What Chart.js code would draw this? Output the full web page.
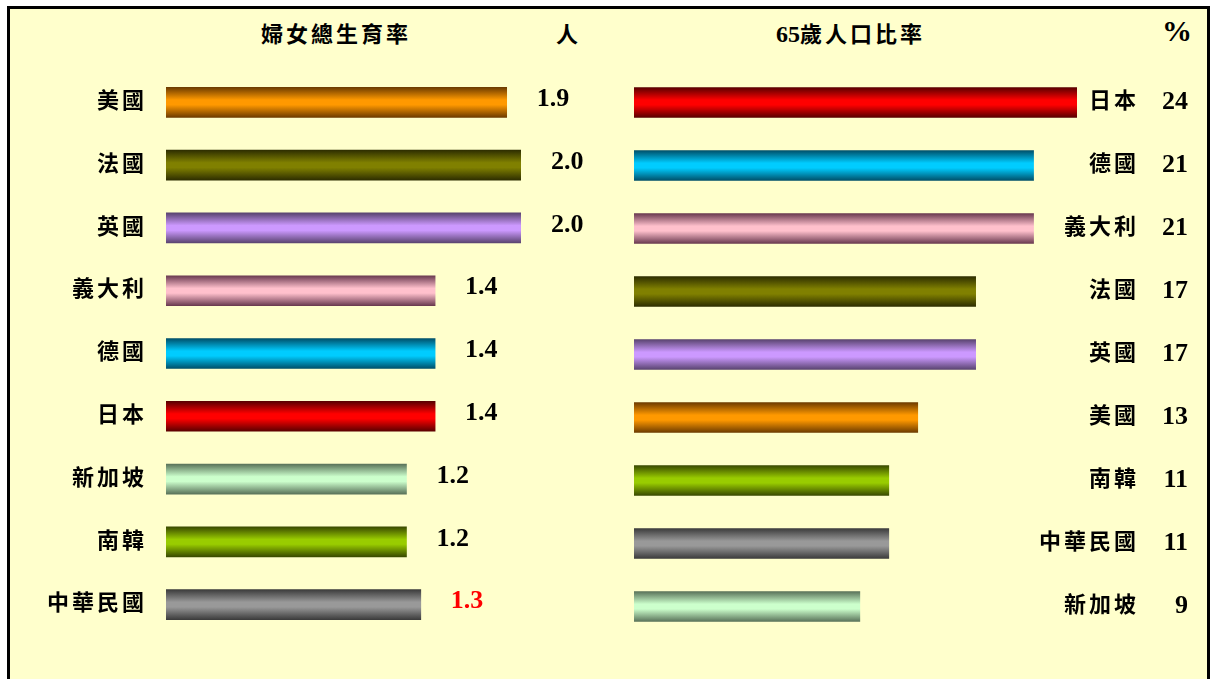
<!DOCTYPE html>
<html>
<head>
<meta charset="utf-8">
<script src="https://cdn.jsdelivr.net/npm/chart.js@4"></script>
<style>
  html, body { margin: 0; padding: 0; background: #fff; overflow: hidden; }
  #frame {
    position: absolute; left: 7px; top: 6px; width: 1197px; height: 700px;
    border: 3px solid #000; background: #FFFFCC;
  }
  .title {
    position: absolute; top: 16px; font: bold 22px "Liberation Serif", "Noto Sans CJK TC";
    letter-spacing: 3px; color: #000; white-space: nowrap;
  }
  canvas { position: absolute; top: 0; }
</style>
</head>
<body>
<div id="frame"></div>
<div class="title" style="left:261px">婦女總生育率</div>
<div class="title" style="left:556px">人</div>
<div class="title" style="left:776px"><span style="letter-spacing:0;font-size:24px">65</span>歲人口比率</div>
<div class="title" style="left:1162px;top:14px;font-size:30px;letter-spacing:0">%</div>

<div style="position:absolute;left:0;top:0;width:600px;height:679px">
  <canvas id="fertilityChart"></canvas>
</div>
<div style="position:absolute;left:600px;top:0;width:614px;height:679px">
  <canvas id="agedChart"></canvas>
</div>

<script>
/* ========================================
   DATA
======================================== */
const fertilityCountries = ["美國", "法國", "英國", "義大利", "德國", "日本", "新加坡", "南韓", "中華民國"];
const fertilityValues = [1.9, 2.0, 2.0, 1.4, 1.4, 1.4, 1.2, 1.2, 1.3];
const fertilityLabels = ["1.9", "2.0", "2.0", "1.4", "1.4", "1.4", "1.2", "1.2", "1.3"];

const agedCountries = ["日本", "德國", "義大利", "法國", "英國", "美國", "南韓", "中華民國", "新加坡"];
const agedValues = [24, 21, 21, 17, 17, 13, 11, 11, 9];
const agedLabels = ["24", "21", "21", "17", "17", "13", "11", "11", "9"];

/* bar colours per country: [edge, centre] */
const countryColors = {
  "美國": ["#6e3c00", "#ff9900"],
  "法國": ["#2e2e00", "#808000"],
  "英國": ["#5a4470", "#cc99ff"],
  "義大利": ["#6a3a50", "#ffc0cc"],
  "德國": ["#00506a", "#00ccff"],
  "日本": ["#5a0000", "#ff0000"],
  "新加坡": ["#5a735a", "#ccffcc"],
  "南韓": ["#3a4a00", "#99cc00"],
  "中華民國": ["#3c3c3c", "#999999"]
};

const LABEL_FONT = 'bold 22px "Liberation Serif", "Noto Sans CJK TC"';
const VALUE_FONT = 'bold 26px "Liberation Serif", "Noto Sans CJK TC"';

/* ========================================
   CYLINDER GRADIENT
======================================== */
function barGradient(countries) {
  return context => {
    const chart = context.chart;
    const pair = countryColors[countries[context.dataIndex]] || ["#444", "#999"];
    if (!chart.chartArea || !chart.scales.y) return pair[1];
    const y = chart.scales.y.getPixelForValue(context.dataIndex);
    const half = 15;
    const g = chart.ctx.createLinearGradient(0, y - half, 0, y + half);
    g.addColorStop(0, pair[0]);
    g.addColorStop(0.42, pair[1]);
    g.addColorStop(0.58, pair[1]);
    g.addColorStop(1, pair[0]);
    return g;
  };
}

/* ========================================
   TEXT PLUGIN
======================================== */
function textPlugin(opts) {
  return {
    id: "barTexts",
    afterDatasetsDraw(chart) {
      const ctx = chart.ctx;
      const meta = chart.getDatasetMeta(0);
      ctx.save();
      ctx.textBaseline = "middle";
      meta.data.forEach((bar, i) => {
        const y = bar.y;
        // category name
        ctx.font = LABEL_FONT;
        ctx.letterSpacing = "3px";
        ctx.fillStyle = "#000";
        ctx.textAlign = "right";
        ctx.fillText(opts.countries[i], opts.nameX, y);
        // value
        ctx.letterSpacing = "0px";
        ctx.font = VALUE_FONT;
        ctx.fillStyle = opts.valueColor(i);
        if (opts.valueX != null) {
          ctx.textAlign = "right";
          ctx.fillText(opts.labels[i], opts.valueX, y);
        } else {
          ctx.textAlign = "left";
          ctx.fillText(opts.labels[i], bar.x + 30, y - 3);
        }
      });
      ctx.restore();
    }
  };
}

function baseOptions(min, max, padding) {
  return {
    indexAxis: "y",
    responsive: true,
    maintainAspectRatio: false,
    animation: false,
    layout: { padding },
    plugins: { legend: { display: false }, tooltip: { enabled: false } },
    scales: {
      x: { display: false, min, max },
      y: { display: false, offset: true, grid: { display: false } }
    }
  };
}

/* ========================================
   FERTILITY CHART (left)
======================================== */
const FERT_MIN = -0.48;
new Chart(document.getElementById("fertilityChart"), {
  type: "bar",
  data: {
    labels: fertilityCountries,
    datasets: [{
      data: fertilityValues,
      base: FERT_MIN,
      backgroundColor: barGradient(fertilityCountries),
      borderWidth: 0,
      barThickness: 30
    }]
  },
  options: baseOptions(FERT_MIN, 2.0, { left: 166, right: 79, top: 71, bottom: 43 }),
  plugins: [textPlugin({
    countries: fertilityCountries,
    labels: fertilityLabels,
    nameX: 147,
    valueX: null,
    valueColor: i => fertilityCountries[i] === "中華民國" ? "#ff0000" : "#000"
  })]
});

/* ========================================
   AGED POPULATION CHART (right)
======================================== */
const AGED_MIN = -6.6;
new Chart(document.getElementById("agedChart"), {
  type: "bar",
  data: {
    labels: agedCountries,
    datasets: [{
      data: agedValues,
      base: AGED_MIN,
      backgroundColor: barGradient(agedCountries),
      borderWidth: 0,
      barThickness: 30
    }]
  },
  options: baseOptions(AGED_MIN, 24, { left: 34, right: 137, top: 71, bottom: 41 }),
  plugins: [textPlugin({
    countries: agedCountries,
    labels: agedLabels,
    nameX: 539,
    valueX: 588,
    valueColor: () => "#000"
  })]
});
</script>
</body>
</html>
